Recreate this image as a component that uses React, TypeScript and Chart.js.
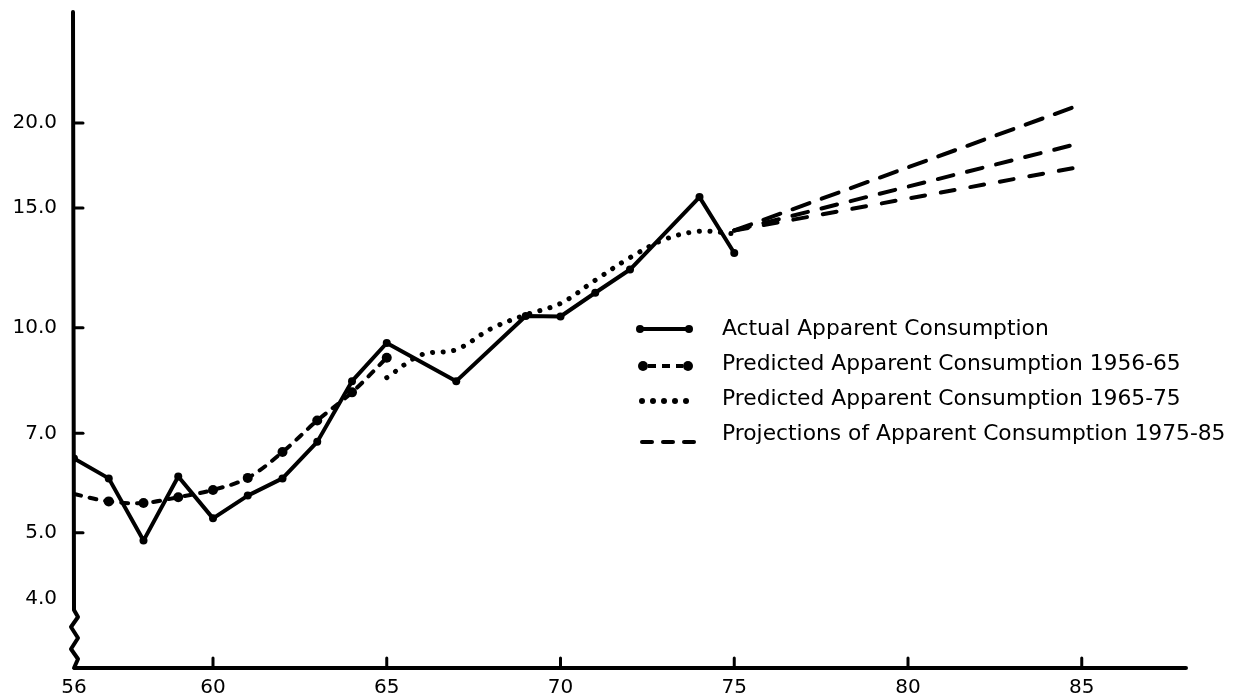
import { useEffect, useRef } from 'react';
import { Chart, registerables } from 'chart.js';

Chart.register(...registerables);

const FONT = '"DejaVu Sans", "Liberation Sans", sans-serif';

// ---- data ----
const xTickValues = [56, 60, 65, 70, 75, 80, 85];
const yTickValues = [4, 5, 7, 10, 15, 20];

const actualYears = [56, 57, 58, 59, 60, 61, 62, 63, 64, 65, 67, 69, 70, 71, 72, 74, 75];
const actualValues = [6.43, 6.01, 4.87, 6.05, 5.25, 5.67, 6.01, 6.8, 8.35, 9.5, 8.35, 10.41, 10.39, 11.26, 12.18, 15.56, 12.88];

const pred5665Years = [56, 57, 58, 59, 60, 61, 62, 63, 64, 65];
const pred5665Values = [5.7, 5.56, 5.53, 5.64, 5.78, 6.02, 6.57, 7.31, 8.04, 9.04];

const pred6575Years = [65, 66, 67, 68, 69, 70, 71, 72, 73, 74, 75];
const pred6575Values = [8.45, 9.13, 9.29, 9.97, 10.45, 10.86, 11.75, 12.68, 13.49, 13.86, 13.75];

const projYears = [75, 85];
const projHighValues = [13.9, 21.3];
const projMidValues = [13.9, 18.7];
const projLowValues = [13.9, 17.25];

const legendLabels = [
  'Actual Apparent Consumption',
  'Predicted Apparent Consumption 1956-65',
  'Predicted Apparent Consumption 1965-75',
  'Projections of Apparent Consumption 1975-85',
];

const X_MIN = 56;
const X_MAX = 88;
const Y_MIN = 3.165;
const Y_MAX = 29.1;

const pts = (xs: number[], ys: number[]) => xs.map((x, i) => ({ x, y: ys[i] }));

const decorPlugin = {
  id: 'decor',
  beforeDatasetsDraw(chart: any) {
    const ctx = chart.ctx as CanvasRenderingContext2D;
    const ca = chart.chartArea;
    const ys = chart.scales.y;
    const xs = chart.scales.x;
    ctx.save();
    ctx.strokeStyle = '#000';
    ctx.lineCap = 'round';
    ctx.lineJoin = 'round';
    // axis lines with break symbol
    ctx.lineWidth = 4;
    const ax = ca.left;
    const wigTop = ca.bottom - 58;
    ctx.beginPath();
    ctx.moveTo(ax - 1, ca.top);
    ctx.lineTo(ax, wigTop);
    ctx.lineTo(ax + 4, wigTop + 7);
    ctx.lineTo(ax - 3, wigTop + 17);
    ctx.lineTo(ax + 4, wigTop + 28);
    ctx.lineTo(ax - 3, wigTop + 39);
    ctx.lineTo(ax + 4, wigTop + 49);
    ctx.lineTo(ax, ca.bottom);
    ctx.lineTo(ca.right, ca.bottom);
    ctx.stroke();
    // y tick marks
    ctx.lineWidth = 3;
    yTickValues.forEach((v) => {
      if (v === 4) return;
      const py = ys.getPixelForValue(v);
      ctx.beginPath();
      ctx.moveTo(ax, py);
      ctx.lineTo(ax + 9, py);
      ctx.stroke();
    });
    // x tick marks
    xTickValues.forEach((v) => {
      if (v === 56) return;
      const px = xs.getPixelForValue(v);
      ctx.beginPath();
      ctx.moveTo(px, ca.bottom);
      ctx.lineTo(px, ca.bottom - 10);
      ctx.stroke();
    });
    ctx.restore();
  },
  afterDraw(chart: any) {
    const ctx = chart.ctx as CanvasRenderingContext2D;
    ctx.save();
    ctx.fillStyle = '#000';
    ctx.strokeStyle = '#000';
    const x0 = 640;
    const x1 = 689;
    const textX = 722;
    const rowY = [329, 364, 399, 434];
    // sample 1: solid with end dots
    ctx.lineWidth = 4;
    ctx.lineCap = 'butt';
    ctx.beginPath();
    ctx.moveTo(x0, rowY[0]);
    ctx.lineTo(x1, rowY[0]);
    ctx.stroke();
    [x0, x1].forEach((x) => {
      ctx.beginPath();
      ctx.arc(x, rowY[0], 4, 0, Math.PI * 2);
      ctx.fill();
    });
    // sample 2: dashed with end dots
    ctx.setLineDash([8, 6]);
    ctx.beginPath();
    ctx.moveTo(x0 + 8, rowY[1] + 2);
    ctx.lineTo(x1 - 6, rowY[1] + 2);
    ctx.stroke();
    ctx.setLineDash([]);
    [x0 + 3, x1 - 1].forEach((x) => {
      ctx.beginPath();
      ctx.arc(x, rowY[1] + 2, 5, 0, Math.PI * 2);
      ctx.fill();
    });
    // sample 3: dotted
    for (let i = 0; i < 5; i++) {
      ctx.beginPath();
      ctx.arc(x0 + 2 + i * 11, rowY[2] + 2, 3, 0, Math.PI * 2);
      ctx.fill();
    }
    // sample 4: dashes
    ctx.lineWidth = 4;
    ctx.lineCap = 'round';
    [0, 1, 2].forEach((i) => {
      const sx = x0 + 2 + i * 21;
      ctx.beginPath();
      ctx.moveTo(sx, rowY[3] + 8);
      ctx.lineTo(sx + 10, rowY[3] + 8);
      ctx.stroke();
    });
    // texts
    ctx.font = `21.8px ${FONT}`;
    ctx.textBaseline = 'middle';
    ctx.textAlign = 'left';
    legendLabels.forEach((t, i) => {
      ctx.fillText(t, textX, rowY[i]);
    });
    ctx.restore();
  },
};

export default function App() {
  const ref = useRef<HTMLCanvasElement>(null);
  useEffect(() => {
    const canvas = ref.current;
    if (!canvas) return;
    const chart = new Chart(canvas, {
      type: 'line',
      data: {
        datasets: [
          {
            label: legendLabels[0],
            data: pts(actualYears, actualValues),
            borderColor: '#000',
            backgroundColor: '#000',
            borderWidth: 4,
            pointRadius: 4,
            pointBorderWidth: 0,
            pointBackgroundColor: '#000',
            tension: 0,
            borderJoinStyle: 'round',
          },
          {
            label: legendLabels[1],
            data: pts(pred5665Years, pred5665Values),
            borderColor: '#000',
            backgroundColor: '#000',
            borderWidth: 4,
            borderDash: [7, 9],
            borderCapStyle: 'round',
            pointRadius: (c: any) => (c.dataIndex === 0 ? 0 : 5),
            pointBorderWidth: 0,
            pointBackgroundColor: '#000',
            tension: 0.35,
          },
          {
            label: legendLabels[2],
            data: pts(pred6575Years, pred6575Values),
            borderColor: '#000',
            borderWidth: 5,
            borderDash: [0.1, 10.5],
            borderCapStyle: 'round',
            pointRadius: 0,
            tension: 0.35,
          },
          {
            label: legendLabels[3],
            data: pts(projYears, projHighValues),
            borderColor: '#000',
            borderWidth: 4,
            borderDash: [18, 13],
            borderCapStyle: 'round',
            pointRadius: 0,
          },
          {
            label: legendLabels[3],
            data: pts(projYears, projMidValues),
            borderColor: '#000',
            borderWidth: 4,
            borderDash: [16, 14],
            borderCapStyle: 'round',
            pointRadius: 0,
          },
          {
            label: legendLabels[3],
            data: pts(projYears, projLowValues),
            borderColor: '#000',
            borderWidth: 4,
            borderDash: [14, 16],
            borderCapStyle: 'round',
            pointRadius: 0,
          },
        ],
      },
      options: {
        animation: false,
        responsive: false,
        devicePixelRatio: 1,
        layout: { padding: { top: 12, right: 59, left: 0, bottom: 0 } },
        plugins: {
          legend: { display: false },
          tooltip: { enabled: false },
        },
        scales: {
          x: {
            type: 'linear',
            min: X_MIN,
            max: X_MAX,
            grid: { display: false, drawTicks: false },
            border: { display: false },
            ticks: {
              color: '#000',
              font: { family: FONT, size: 20 },
              padding: 8,
              autoSkip: false,
              maxRotation: 0,
              callback: (v: any) => String(v),
            },
            afterBuildTicks: (s: any) => {
              s.ticks = xTickValues.map((v) => ({ value: v }));
            },
            afterFit: (s: any) => {
              s.height = 32;
              s.paddingLeft = 0;
              s.paddingRight = 0;
            },
          },
          y: {
            type: 'logarithmic',
            min: Y_MIN,
            max: Y_MAX,
            grid: { display: false, drawTicks: false },
            border: { display: false },
            ticks: {
              color: '#000',
              font: { family: FONT, size: 20 },
              padding: 17,
              autoSkip: false,
              callback: (v: any) => Number(v).toFixed(1),
            },
            afterBuildTicks: (s: any) => {
              s.ticks = yTickValues.map((v) => ({ value: v }));
            },
            afterFit: (s: any) => {
              s.width = 74;
              s.paddingTop = 0;
              s.paddingBottom = 0;
            },
          },
        },
      },
      plugins: [decorPlugin],
    } as any);
    return () => chart.destroy();
  }, []);
  return (
    <div style={{ position: 'fixed', left: 0, top: 0, width: 1245, height: 700, background: '#fff' }}>
      <canvas ref={ref} width={1245} height={700} style={{ width: 1245, height: 700, display: 'block' }} />
    </div>
  );
}
